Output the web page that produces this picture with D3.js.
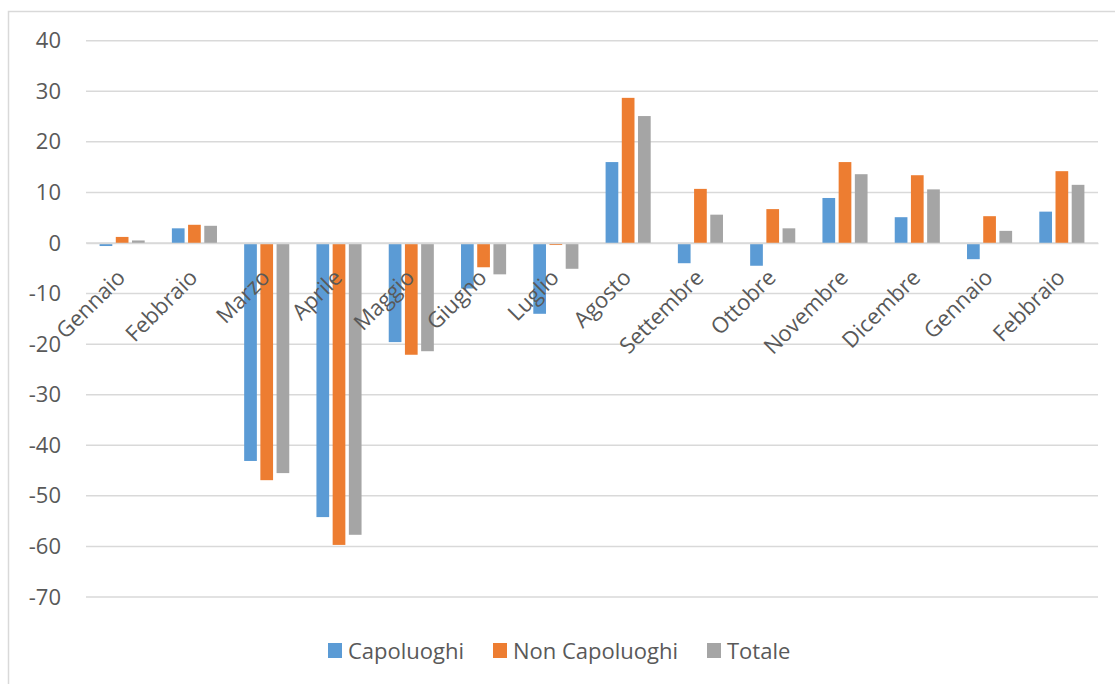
<!DOCTYPE html>
<html>
<head>
<meta charset="utf-8">
<script src="https://cdn.jsdelivr.net/npm/d3@7"></script>
<style>
  body { margin: 0; background: #fff; }
  svg { display: block; }
  text { font-family: "Open Sans", "DejaVu Sans", sans-serif; fill: #595959; }
</style>
</head>
<body>
<svg id="chart"></svg>
<script>
// Months shown on the x axis (two years: Gen 2020 .. Feb 2021)
const categories = ['Gennaio', 'Febbraio', 'Marzo', 'Aprile', 'Maggio', 'Giugno', 'Luglio',
  'Agosto', 'Settembre', 'Ottobre', 'Novembre', 'Dicembre', 'Gennaio', 'Febbraio'];

const seriesNames = ['Capoluoghi', 'Non Capoluoghi', 'Totale'];
const seriesColors = ['#5B9BD5', '#ED7D31', '#A5A5A5'];

const capoluoghi = [-0.6, 2.9, -43.1, -54.2, -19.6, -9.0, -14.0, 16.0, -4.0, -4.5, 8.9, 5.1, -3.2, 6.2];
const nonCapoluoghi = [1.2, 3.6, -46.9, -59.7, -22.1, -4.8, -0.4, 28.7, 10.7, 6.7, 16.0, 13.4, 5.3, 14.2];
const totale = [0.5, 3.4, -45.5, -57.7, -21.4, -6.2, -5.1, 25.1, 5.6, 2.9, 13.6, 10.6, 2.4, 11.5];

const yTicks = [40, 30, 20, 10, 0, -10, -20, -30, -40, -50, -60, -70];

const width = 1115;
const height = 684;
const margin = { top: 40.7, right: 17, bottom: 87, left: 86 };
const innerWidth = width - margin.left - margin.right;
const innerHeight = height - margin.top - margin.bottom;
const fontSize = 22;

const svg = d3.select('#chart')
  .attr('width', width)
  .attr('height', height);

// chart area border (right and bottom edges fall outside the picture)
svg.append('rect')
  .attr('x', 8.5)
  .attr('y', 11.5)
  .attr('width', 1130)
  .attr('height', 700)
  .attr('fill', 'none')
  .attr('stroke', '#D9D9D9')
  .attr('stroke-width', 1.5);

const g = svg.append('g')
  .attr('transform', `translate(${margin.left},${margin.top})`);

// scales
const x0 = d3.scaleBand()
  .domain(d3.range(categories.length))
  .range([0, innerWidth])
  .paddingInner(0.376)
  .paddingOuter(0.188);

const x1 = d3.scaleBand()
  .domain(d3.range(seriesNames.length))
  .range([0, x0.bandwidth()])
  .paddingInner(0.216);

const y = d3.scaleLinear()
  .domain([-70, 40])
  .range([innerHeight, 0]);

// gridlines
g.append('g')
  .attr('class', 'grid')
  .selectAll('line')
  .data(yTicks)
  .join('line')
  .attr('x1', 0)
  .attr('x2', innerWidth)
  .attr('y1', d => y(d))
  .attr('y2', d => y(d))
  .attr('stroke', '#D9D9D9')
  .attr('stroke-width', 1.5);

// y axis labels (plain hyphen for negatives, like the original)
const yAxis = g.append('g')
  .call(d3.axisLeft(y).tickValues(yTicks).tickSize(0).tickPadding(25).tickFormat(d => String(d)));
yAxis.select('.domain').remove();
yAxis.selectAll('text')
  .attr('font-size', fontSize)
  .attr('fill', '#595959')
  .style('font-family', '"Open Sans", sans-serif');

// bars
const series = [capoluoghi, nonCapoluoghi, totale];
const barData = [];
categories.forEach((c, i) => {
  series.forEach((s, j) => barData.push({ i, j, value: s[i] }));
});

g.append('g')
  .attr('class', 'bars')
  .selectAll('rect')
  .data(barData)
  .join('rect')
  .attr('x', d => x0(d.i) + x1(d.j))
  .attr('width', x1.bandwidth())
  .attr('y', d => y(Math.max(0, d.value)))
  .attr('height', d => Math.abs(y(d.value) - y(0)))
  .attr('fill', d => seriesColors[d.j]);

// category axis at zero, labels rotated
const xAxis = g.append('g')
  .attr('transform', `translate(0,${y(0)})`)
  .call(d3.axisBottom(x0).tickSize(0).tickFormat(i => categories[i]));
xAxis.select('.domain')
  .attr('stroke', '#D9D9D9')
  .attr('stroke-width', 1.5);
xAxis.selectAll('text')
  .attr('y', null)
  .attr('dy', null)
  .attr('font-size', fontSize)
  .attr('fill', '#595959')
  .attr('text-anchor', 'end')
  .attr('transform', 'translate(4.5,36) rotate(-45)')
  .style('font-family', '"Open Sans", sans-serif');

// legend
const legend = svg.append('g').attr('class', 'legend');
const legendX = [328, 493, 707];
seriesNames.forEach((name, j) => {
  const item = legend.append('g')
    .attr('transform', `translate(${legendX[j]},643)`);
  item.append('rect')
    .attr('width', 14)
    .attr('height', 15)
    .attr('fill', seriesColors[j]);
  item.append('text')
    .attr('x', 20)
    .attr('y', 15.5)
    .attr('font-size', fontSize)
    .text(name);
});
</script>
</body>
</html>
